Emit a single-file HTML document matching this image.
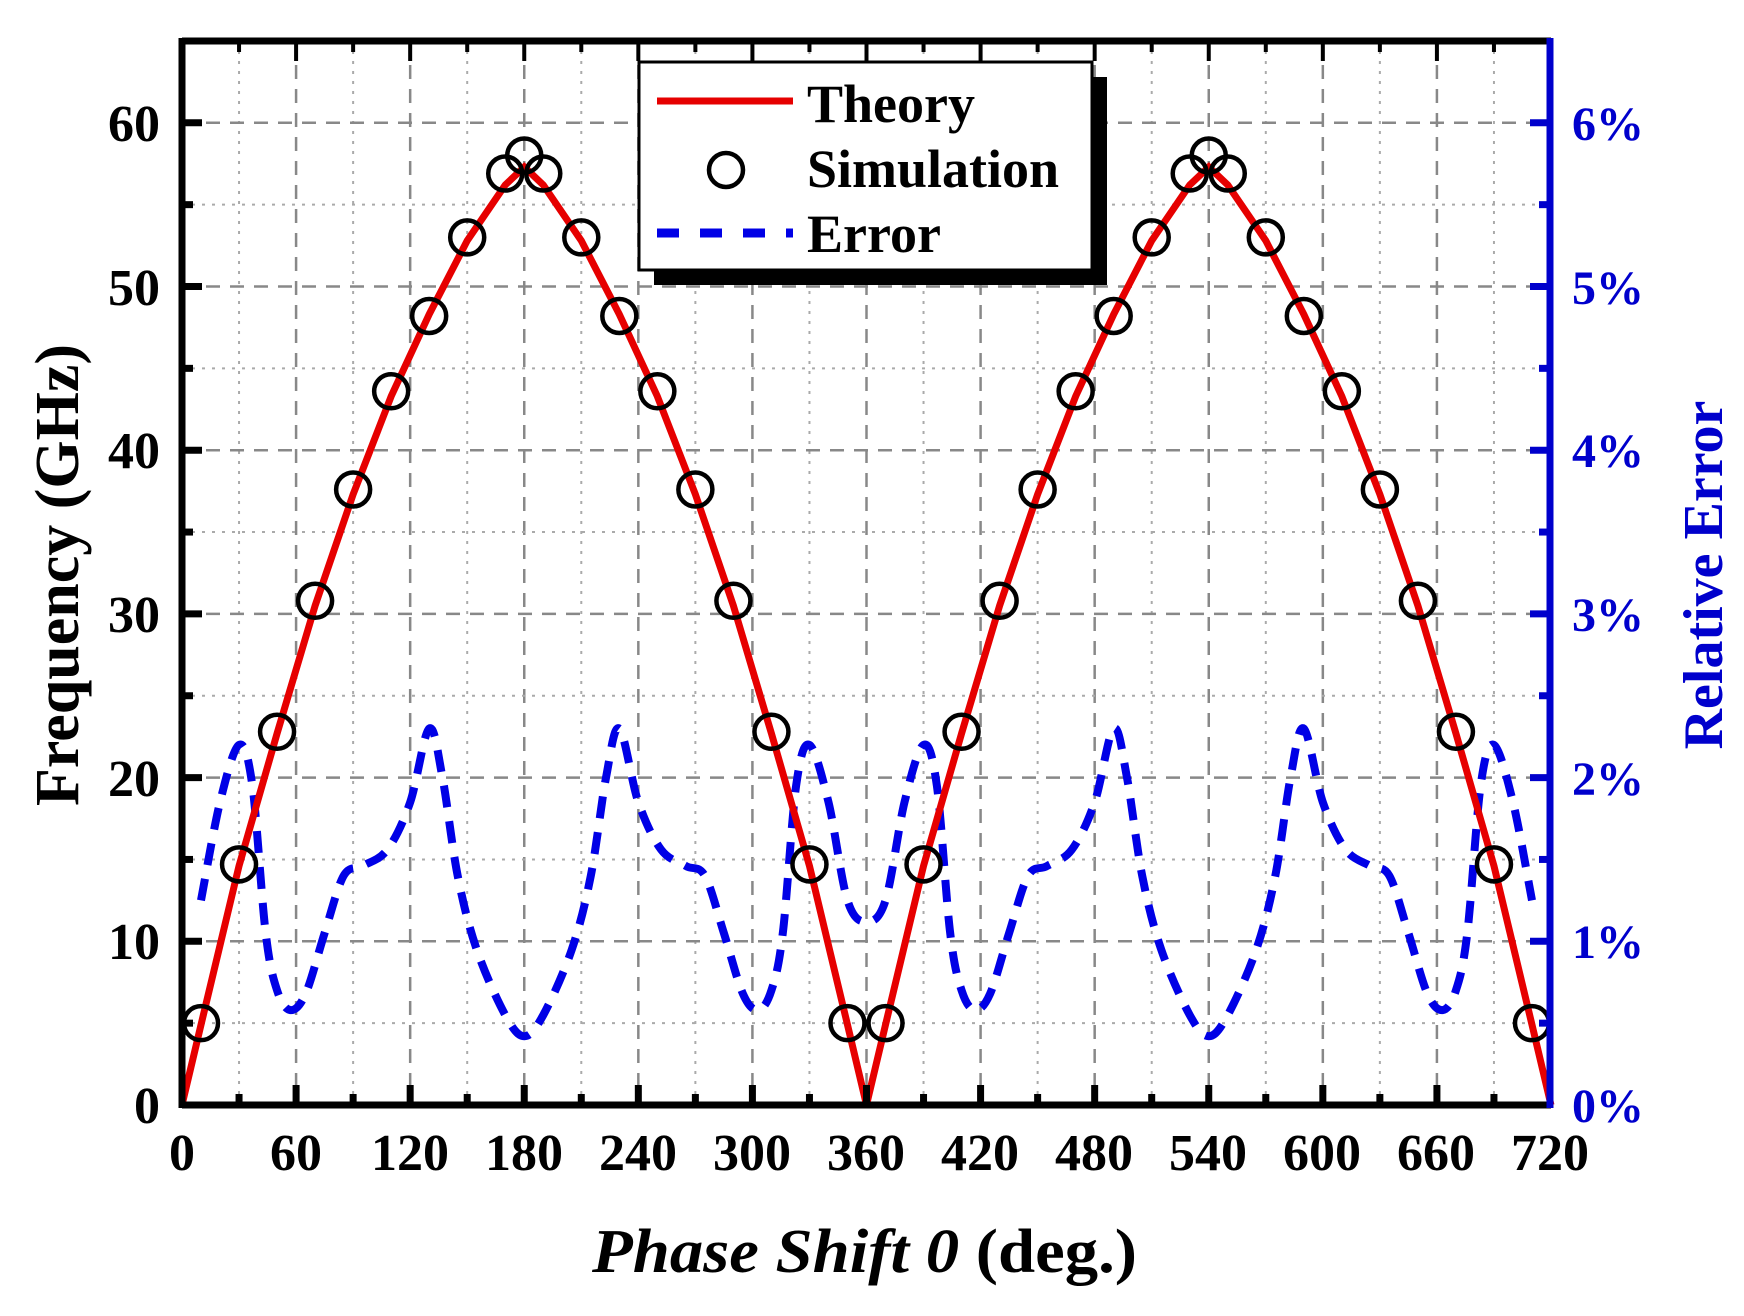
<!DOCTYPE html>
<html><head><meta charset="utf-8"><style>
html,body{margin:0;padding:0;background:#fff;}
svg{display:block;}
text{font-family:"Liberation Serif",serif;font-weight:bold;}
</style></head><body>
<svg id="s" width="1744" height="1316" viewBox="0 0 1744 1316" xmlns="http://www.w3.org/2000/svg">
<g id="grid"></g>
<path id="err" fill="none" stroke="#0000e6" stroke-width="8" stroke-dasharray="22,14"/>
<path id="th" fill="none" stroke="#e60000" stroke-width="7"/>
<g id="circ" fill="none" stroke="#000" stroke-width="4.5"></g>
<g id="ticks"></g>
<!-- axes -->
<line x1="182" y1="41" x2="1551" y2="41" stroke="#000" stroke-width="7"/>
<line x1="182" y1="1105" x2="1551" y2="1105" stroke="#000" stroke-width="7"/>
<line x1="182" y1="38" x2="182" y2="1108" stroke="#000" stroke-width="7"/>
<line x1="1550" y1="38" x2="1550" y2="1108" stroke="#0000cc" stroke-width="7"/>
<!-- legend -->
<rect x="654" y="77" width="453" height="208" fill="#000"/>
<rect x="639" y="62" width="453" height="208" fill="#fff" stroke="#000" stroke-width="3"/>
<line x1="657" y1="101" x2="793" y2="101" stroke="#e60000" stroke-width="7"/>
<circle cx="726" cy="170" r="17" fill="none" stroke="#000" stroke-width="4.5"/>
<path d="M657 233 H793" stroke="#0000e6" stroke-width="9" stroke-dasharray="22,21"/>
<text x="807" y="122" font-size="54">Theory</text>
<text x="807" y="187" font-size="54">Simulation</text>
<text x="807" y="252" font-size="54">Error</text>
<!-- y labels left -->
<g font-size="52" text-anchor="end">
<text x="160" y="1123">0</text>
<text x="160" y="959">10</text>
<text x="160" y="796">20</text>
<text x="160" y="632">30</text>
<text x="160" y="468">40</text>
<text x="160" y="305">50</text>
<text x="160" y="141">60</text>
</g>
<g font-size="48" fill="#0000cc">
<text x="1572" y="1122">0%</text>
<text x="1572" y="958">1%</text>
<text x="1572" y="795">2%</text>
<text x="1572" y="631">3%</text>
<text x="1572" y="467">4%</text>
<text x="1572" y="304">5%</text>
<text x="1572" y="140">6%</text>
</g>
<g font-size="52" text-anchor="middle">
<text x="182" y="1170">0</text>
<text x="296" y="1170">60</text>
<text x="410" y="1170">120</text>
<text x="524" y="1170">180</text>
<text x="638" y="1170">240</text>
<text x="752" y="1170">300</text>
<text x="866" y="1170">360</text>
<text x="980" y="1170">420</text>
<text x="1094" y="1170">480</text>
<text x="1208" y="1170">540</text>
<text x="1322" y="1170">600</text>
<text x="1436" y="1170">660</text>
<text x="1550" y="1170">720</text>
</g>
<text transform="translate(78,575) rotate(-90)" font-size="62" text-anchor="middle">Frequency (GHz)</text>
<text transform="translate(1722,575) rotate(-90)" font-size="56" text-anchor="middle" fill="#0000cc">Relative Error</text>
<text x="592" y="1272" font-size="62" textLength="545" lengthAdjust="spacingAndGlyphs"><tspan font-style="italic">Phase Shift 0</tspan> (deg.)</text>
</svg>
<script>
var NS="http://www.w3.org/2000/svg";
function X(d){return 182+d*1901/1000*1.0;} 
function Xd(d){return 182+d*(1369/720);}
function Y(v){return 1105-v*16.37;}
function el(p,t,a){var e=document.createElementNS(NS,t);for(var k in a)e.setAttribute(k,a[k]);p.appendChild(e);return e;}
var g=document.getElementById('grid'),tk=document.getElementById('ticks');
for(var d=30;d<720;d+=30){var maj=d%60==0;el(g,'line',{x1:Xd(d),x2:Xd(d),y1:41,y2:1105,stroke:maj?'#888':'#aaa','stroke-width':maj?2.5:2,'stroke-dasharray':maj?'14,10':'3,7'});}
for(var v=5;v<65;v+=5){var maj=v%10==0;el(g,'line',{x1:182,x2:1550,y1:Y(v),y2:Y(v),stroke:maj?'#888':'#aaa','stroke-width':maj?2.5:2,'stroke-dasharray':maj?'14,10':'3,7'});}
for(var d=30;d<720;d+=30){var L=d%60==0?20:11;el(tk,'line',{x1:Xd(d),x2:Xd(d),y1:1105,y2:1105-L,stroke:'#000','stroke-width':7});el(tk,'line',{x1:Xd(d),x2:Xd(d),y1:41,y2:41+L,stroke:'#000','stroke-width':4});}
for(var v=5;v<65;v+=5){var L=v%10==0?20:11;el(tk,'line',{x1:182,x2:182+L,y1:Y(v),y2:Y(v),stroke:'#000','stroke-width':7});el(tk,'line',{x1:1550,x2:1550-L,y1:Y(v),y2:Y(v),stroke:'#0000cc','stroke-width':7});}
// simulation points (first half)
var sp=[[10,5],[30,14.7],[50,22.8],[70,30.8],[90,37.6],[110,43.6],[130,48.2],[150,53],[170,56.9],[180,58]];
var pts=[];sp.forEach(function(p){pts.push(p)});
for(var i=sp.length-2;i>=0;i--)pts.push([360-sp[i][0],sp[i][1]]);
var all=pts.concat(pts.map(function(p){return [p[0]+360,p[1]]}));
var c=document.getElementById('circ');
all.forEach(function(p){el(c,'circle',{cx:Xd(p[0]),cy:Y(p[1]),r:17});});
// theory
var th=[[0,0],[10,4.9],[30,14.6],[50,22.7],[70,30.5],[90,37.3],[110,43.3],[130,48.3],[150,52.8],[170,56.2],[180,57.3]];
var tf=th.slice();for(var i=th.length-2;i>=0;i--)tf.push([360-th[i][0],th[i][1]]);
var tall=tf.concat(tf.slice(1).map(function(p){return [p[0]+360,p[1]]}));
document.getElementById('th').setAttribute('d','M'+tall.map(function(p){return Xd(p[0]).toFixed(1)+' '+Y(p[1]).toFixed(1)}).join(' L'));
// error
var e=[[10,1.25],[20,1.85],[30,2.2],[37,1.95],[44,1.05],[50,0.7],[57,0.58],[65,0.68],[75,1.05],[85,1.4],[95,1.46],[108,1.56],[120,1.85],[130,2.3],[137,2.0],[145,1.4],[155,0.95],[170,0.55],[180,0.42]];
var ef=e.slice();for(var i=e.length-2;i>=0;i--)ef.push([360-e[i][0],e[i][1]]);
ef.push([360,1.12]);
var eall=ef.concat(ef.slice(0,ef.length-1).map(function(p){return [p[0]+360,p[1]]}));
eall.sort(function(a,b){return a[0]-b[0]});
var P=eall.map(function(p){return [Xd(p[0]),Y(p[1]*10)]});
var d='M'+P[0][0].toFixed(1)+' '+P[0][1].toFixed(1);
for(var i=0;i<P.length-1;i++){var p0=P[Math.max(0,i-1)],p1=P[i],p2=P[i+1],p3=P[Math.min(P.length-1,i+2)];
var c1=[p1[0]+(p2[0]-p0[0])/6,p1[1]+(p2[1]-p0[1])/6],c2=[p2[0]-(p3[0]-p1[0])/6,p2[1]-(p3[1]-p1[1])/6];
d+=' C'+c1[0].toFixed(1)+' '+c1[1].toFixed(1)+' '+c2[0].toFixed(1)+' '+c2[1].toFixed(1)+' '+p2[0].toFixed(1)+' '+p2[1].toFixed(1);}
document.getElementById('err').setAttribute('d',d);
</script>
</body></html>
